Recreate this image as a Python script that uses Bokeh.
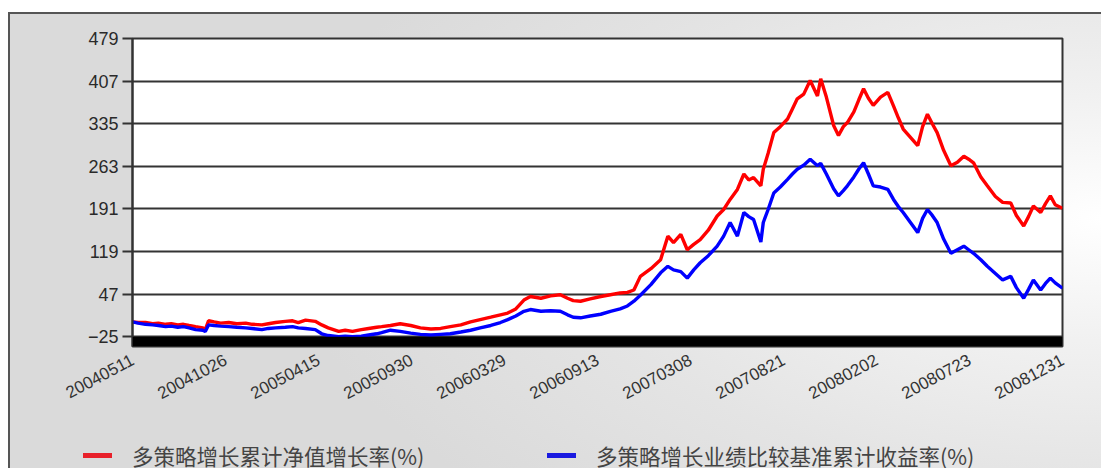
from bokeh.plotting import figure
from bokeh.models import FixedTicker, Range1d, BoxAnnotation, Spacer, Div
from bokeh.layouts import column, row
from bokeh.embed import file_html
from bokeh.resources import INLINE

# trading-day index of each sample
days = [0, 7, 16, 25, 32, 41, 48, 56, 63, 70, 78, 87, 90, 94, 101, 109, 119, 129, 140, 148,
        160, 168, 177, 189, 198, 205, 214, 226, 234, 242, 255, 263, 272, 283, 292, 302, 308, 319, 331, 344,
        356, 369, 381, 393, 406, 418, 430, 443, 455, 464, 474, 484, 492, 505, 517, 529, 538, 545, 554, 566,
        579, 591, 603, 612, 620, 628, 641, 653, 662, 669, 678, 686, 694, 702, 712, 723, 731, 739, 748, 756,
        762, 768, 777, 780, 786, 793, 801, 810, 816, 822, 830, 838, 847, 851, 858, 867, 873, 879, 884, 892,
        898, 904, 910, 916, 925, 934, 941, 947, 953, 962, 971, 977, 983, 989, 995, 1003, 1012, 1020, 1028, 1034,
        1040, 1049, 1057, 1067, 1076, 1086, 1093, 1102, 1108, 1114, 1123, 1129, 1135, 1141, 1150]

# 多策略增长累计净值增长率(%)
nav_growth = [0, -1, -1, -3, -2, -4, -3, -5, -4, -6, -8, -10, -13, 2, 0, -2, -1, -3, -2, -4,
              -5, -3, -1, 1, 2, -1, 3, 1, -5, -10, -16, -14, -16, -13, -11, -9, -8, -6, -3, -6,
              -10, -12, -11, -8, -5, 0, 4, 8, 12, 15, 22, 37, 43, 40, 44, 46, 40, 36, 35, 39,
              43, 46, 49, 50, 54, 77, 90, 105, 145, 134, 148, 122, 131, 139, 155, 179, 190, 207, 224, 250,
              240, 244, 230, 258, 285, 320, 330, 343, 360, 377, 385, 408, 382, 411, 380, 332, 315, 330, 337, 355,
              375, 394, 378, 366, 380, 388, 365, 345, 326, 312, 298, 330, 351, 335, 320, 290, 264, 270, 280, 275,
              269, 245, 230, 212, 202, 201, 180, 162, 178, 196, 185, 200, 213, 198, 192]

# 多策略增长业绩比较基准累计收益率(%)
bench_growth = [0, -2, -4, -5, -6, -8, -7, -9, -8, -10, -13, -14, -16, -5, -6, -7, -8, -9, -10, -11,
                -13, -11, -10, -9, -8, -10, -11, -13, -20, -23, -25, -24, -25, -24, -22, -20, -18, -14, -16, -19,
                -21, -22, -21, -20, -17, -14, -10, -6, -1, 4, 10, 18, 21, 18, 19, 18, 12, 8, 7, 10,
                13, 18, 22, 27, 35, 45, 63, 83, 94, 88, 85, 74, 88, 100, 112, 128, 145, 168, 145, 185,
                178, 173, 135, 168, 190, 218, 228, 241, 250, 258, 265, 275, 264, 268, 250, 225, 213, 222, 230, 245,
                258, 269, 250, 230, 228, 224, 207, 195, 185, 168, 151, 175, 190, 180, 168, 140, 116, 122, 128, 122,
                116, 105, 94, 82, 71, 77, 58, 40, 55, 71, 54, 65, 74, 66, 57]

tick_days = [0, 115, 230, 345, 460, 575, 690, 805, 920, 1035, 1150]
tick_labels = ["20040511", "20041026", "20050415", "20050930", "20060329", "20060913",
               "20070308", "20070821", "20080202", "20080723", "20081231"]
y_ticks = [-25, 47, 119, 191, 263, 335, 407, 479]

series_names = ["多策略增长累计净值增长率(%)", "多策略增长业绩比较基准累计收益率(%)"]
series_colors = ["#ff0000", "#0000ff"]
key_colors = ["#e8202a", "#1a1ae0"]

p = figure(width=1091, height=412, output_backend="svg", toolbar_location=None,
           x_range=Range1d(0, 1150), y_range=Range1d(-41.5, 479),
           min_border_left=122, min_border_right=39, min_border_top=24, min_border_bottom=80)
if p.title is not None:
    p.title.visible = False

p.background_fill_color = "white"
p.border_fill_color = None
p.outline_line_color = "#333333"
p.outline_line_width = 2

# y axis
yax = p.yaxis[0]
yax.ticker = FixedTicker(ticks=y_ticks)
yax.major_tick_out = 10
yax.major_tick_in = 0
yax.minor_tick_line_color = None
yax.axis_line_color = "#333333"
yax.axis_line_width = 2
yax.major_tick_line_color = "#333333"
yax.major_tick_line_width = 2
yax.major_label_text_font = "Liberation Sans"
yax.major_label_text_font_size = "18px"
yax.major_label_text_color = "#2a2a2a"
yax.major_label_standoff = 4

# x axis
xax = p.xaxis[0]
xax.ticker = FixedTicker(ticks=tick_days)
xax.major_label_overrides = {d: lab for d, lab in zip(tick_days, tick_labels)}
xax.major_label_orientation = 0.49
xax.axis_line_color = None
xax.major_tick_line_color = None
xax.minor_tick_line_color = None
xax.major_label_text_font = "Liberation Sans"
xax.major_label_text_font_size = "17px"
xax.major_label_text_color = "#333333"
xax.major_label_standoff = 6

p.xgrid.visible = False
p.ygrid.grid_line_color = "#333333"
p.ygrid.grid_line_width = 2

p.line(days, nav_growth, line_color=series_colors[0], line_width=3.4)
p.line(days, bench_growth, line_color=series_colors[1], line_width=3.4)

p.add_layout(BoxAnnotation(top=-25, fill_color="black", fill_alpha=1, line_color=None))

# legend strip below the chart (HTML text)
key_left = [73, 537]
parts = []
for name, col, left in zip(series_names, key_colors, key_left):
    parts.append(
        f'<span style="position:absolute;left:{left}px;top:27px;width:29px;height:5px;'
        f'background:{col};"></span>'
        f'<span style="position:absolute;left:{left + 49}px;top:14px;line-height:31px;'
        f'white-space:nowrap;">{name}</span>'
    )
legend_html = (
    '<div style="position:relative;width:1091px;height:42px;'
    "font-family:'Noto Sans CJK SC';font-size:21.5px;color:#444444;\">"
    + "".join(parts) + "</div>"
)
legend_strip = Div(text=legend_html, width=1091, height=42, styles={"margin": "0", "padding": "0"})

gradient = {"background": "radial-gradient(ellipse 75% 90% at 100% 45%, #ffffff 0%, #f1f1f1 30%, #e4e4e4 65%, #dadada 100%)"}
body = column(p, legend_strip, styles=gradient)
border_style = {"background-color": "#555555"}
inner = column(Spacer(width=1093, height=2, styles=border_style),
               row(Spacer(width=2, height=454, styles=border_style), body))
layout = column(Spacer(height=12), row(Spacer(width=8), inner))
open("out.html", "w").write(file_html(layout, INLINE))
